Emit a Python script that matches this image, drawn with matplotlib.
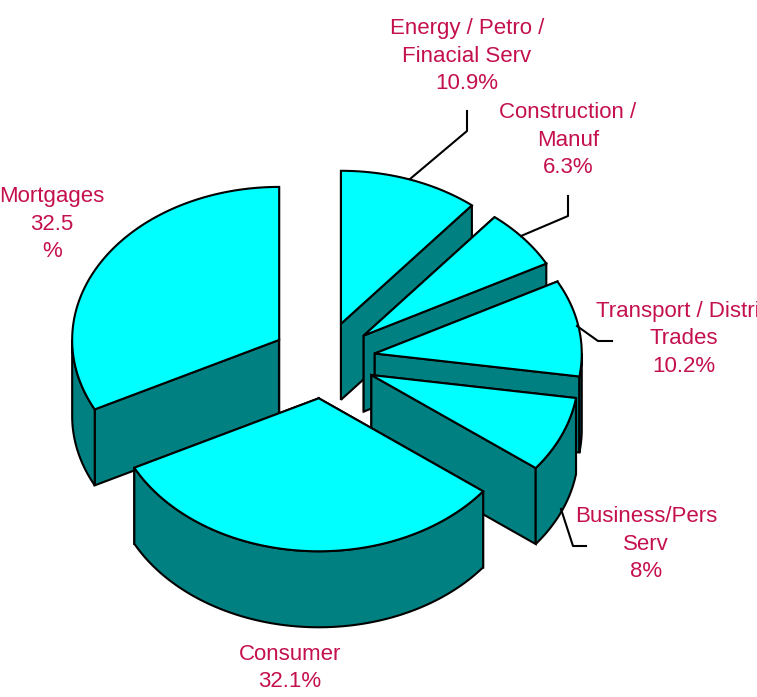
import numpy as np
import matplotlib
matplotlib.use("Agg")
import matplotlib.pyplot as plt
from matplotlib import font_manager as fm

# Dati: quote in senso orario a partire da ore 12
labels = ["Energy / Petro /\nFinacial Serv\n10.9%", "Construction /\nManuf\n6.3%",
          "Transport / Distrib\nTrades\n10.2%", "Business/Pers\nServ\n8%",
          "Consumer\n32.1%", "Mortgages\n32.5\n%"]
shares = [10.9, 6.3, 10.2, 8.0, 32.1, 32.5]

# posizione delle etichette e linee guida (pixel)
label_xy = [(467, 56), (568, 140), (684, 339), (646, 544), (290, 668), (52, 224)]
leaders = [[(410, 179), (467, 131), (467, 111)],
           [(521, 236), (568, 216), (568, 196)],
           [(577, 326), (598, 341), (612, 341)],
           [(561, 509), (573, 546), (586, 546)],
           None, None]

# geometria del disco
CX, CY = 323.5, 360
RX, RY = 207, 153
DEPTH = 76
EXPLODE = 52 / 207

TOP = "#00FFFF"
SIDE = "#008080"
TEXT = "#C4104F"

names = {f.name for f in fm.fontManager.ttflist}
family = "Liberation Sans Narrow" if "Liberation Sans Narrow" in names else "Liberation Sans"

fig = plt.figure(figsize=(7.57, 6.97), dpi=100)
ax = fig.add_axes([0, 0, 1, 1])
ax.set_xlim(0, 757)
ax.set_ylim(697, 0)
ax.axis("off")

edges = np.cumsum([0] + shares) / sum(shares) * 2 * np.pi


def rim(ox, oy, a, b):
    t = np.linspace(a, b, max(int(np.degrees(b - a)), 2) + 1)
    return ox + RX * np.sin(t), oy - RY * np.cos(t)


def draw_slice(i):
    a, b = edges[i], edges[i + 1]
    mid = (a + b) / 2
    ox = CX + EXPLODE * RX * np.sin(mid)
    oy = CY - EXPLODE * RY * np.cos(mid)
    style = dict(edgecolor="black", linewidth=1.5, joinstyle="miter")

    # pareti radiali
    for t in (a, b):
        ex, ey = ox + RX * np.sin(t), oy - RY * np.cos(t)
        ax.fill([ox, ex, ex, ox], [oy, ey, ey + DEPTH, oy + DEPTH], facecolor=SIDE, **style)

    # parete esterna, solo la parte rivolta in avanti
    lo, hi = max(a, np.pi / 2), min(b, 3 * np.pi / 2)
    if hi > lo:
        x, y = rim(ox, oy, lo, hi)
        ax.fill(np.r_[x, x[::-1]], np.r_[y, y[::-1] + DEPTH], facecolor=SIDE, **style)

    # faccia superiore
    x, y = rim(ox, oy, a, b)
    ax.fill(np.r_[ox, x], np.r_[oy, y], facecolor=TOP, **style)


# dal fondo verso l'osservatore
order = sorted(range(len(shares)), key=lambda i: -np.cos((edges[i] + edges[i + 1]) / 2))
for i in order:
    draw_slice(i)

for text, (x, y), line in zip(labels, label_xy, leaders):
    ax.text(x, y, text, ha="center", va="center", color=TEXT, fontsize=16,
            family=family, linespacing=1.42)
    if line:
        ax.plot([p[0] for p in line], [p[1] for p in line], color="black", linewidth=1.5)

fig.savefig("out.png", dpi=100)
